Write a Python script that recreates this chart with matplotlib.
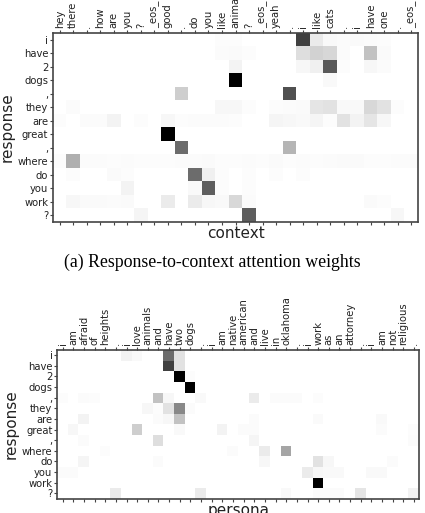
import numpy as np
import matplotlib
matplotlib.use("Agg")
import matplotlib.pyplot as plt

# tokens
response = ["i", "have", "2", "dogs", ",", "they", "are", "great", ",",
            "where", "do", "you", "work", "?"]
context = ["hey", "there", ".", "how", "are", "you", "?", "_eos_", "good", ".",
           "do", "you", "like", "animals", "?", "_eos_", "yeah", ".", "i",
           "like", "cats", ".", "i", "have", "one", ".", "_eos_"]
persona = ["i", "am", "afraid", "of", "heights", ".", "i", "love", "animals",
           "and", "have", "two", "dogs", ".", "i", "am", "native", "american",
           "and", "live", "in", "oklahoma", ".", "i", "work", "as", "an",
           "attorney", ".", "i", "am", "not", "religious", "."]

# attention weights (rows = response, cols = context)
context_weights = [
    [0, 0, 0, 0, 0, 0, 0, 0, 0, 0, 0, 0, .02, .02, 0, 0, 0, 0, .8, .15, .05, .03, .04, .03, .02, 0, 0],
    [0, 0, 0, 0, 0, 0, 0, 0, 0, 0, 0, 0, .03, .04, .02, 0, 0, 0, .22, .28, .26, .03, 0, .35, .04, 0, 0],
    [0, 0, 0, 0, 0, 0, 0, 0, 0, 0, 0, 0, 0, .1, 0, 0, 0, 0, .06, .12, .72, .02, 0, .06, .03, 0, 0],
    [0, 0, 0, 0, 0, 0, 0, 0, 0, 0, 0, 0, 0, 1, 0, 0, 0, 0, 0, 0, .05, 0, 0, 0, 0, 0, 0],
    [0, 0, 0, 0, 0, 0, 0, 0, 0, .3, 0, 0, 0, 0, 0, 0, 0, .75, 0, 0, 0, 0, 0, 0, 0, 0, 0],
    [0, .03, 0, 0, 0, 0, 0, 0, 0, 0, 0, 0, .07, .07, .02, 0, .02, .03, .04, .18, .2, .05, .05, .25, .2, .02, 0],
    [.02, 0, .03, .03, .1, 0, .02, 0, .07, .02, .03, .03, .03, .02, 0, 0, .08, .07, .05, .08, .02, .2, .1, .18, .06, 0, 0],
    [0, 0, 0, 0, 0, 0, 0, 0, 1, 0, 0, 0, 0, 0, 0, 0, 0, 0, 0, 0, 0, 0, 0, 0, 0, 0, 0],
    [0, 0, 0, 0, 0, 0, 0, 0, 0, .65, 0, 0, 0, 0, 0, 0, 0, .4, 0, 0, 0, 0, 0, 0, 0, 0, 0],
    [.02, .42, .03, .03, .02, .03, .02, .02, .02, .03, .03, .04, .02, .02, .03, .02, .04, .02, .03, .02, .03, .04, .04, .02, .02, .03, .03],
    [0, .02, 0, 0, .04, .02, 0, 0, 0, 0, .65, .12, .02, 0, .02, 0, .02, 0, .02, 0, 0, 0, 0, 0, 0, 0, 0],
    [0, 0, 0, 0, 0, .1, 0, 0, 0, 0, .05, .7, .02, 0, .02, 0, 0, 0, 0, 0, 0, 0, 0, 0, 0, 0, 0],
    [0, .07, .04, .04, .03, .04, 0, 0, .15, 0, .15, .07, .05, .25, .03, 0, 0, 0, 0, 0, 0, 0, 0, .04, .02, 0, 0],
    [0, 0, 0, 0, 0, 0, .08, 0, 0, 0, 0, 0, 0, 0, .7, 0, 0, 0, 0, 0, 0, 0, 0, 0, 0, .07, 0],
]

# rows = response, cols = persona
persona_weights = [
    [0, 0, 0, 0, 0, 0, .1, .05, 0, 0, .65, .2, 0, 0, 0, 0, 0, 0, 0, 0, 0, 0, 0, 0, 0, 0, 0, 0, 0, 0, 0, 0, 0, 0],
    [0, 0, 0, 0, 0, 0, 0, 0, 0, 0, .8, .2, 0, 0, 0, 0, 0, 0, 0, 0, 0, 0, 0, 0, 0, 0, 0, 0, 0, 0, 0, 0, 0, 0],
    [0, 0, 0, 0, 0, 0, 0, 0, 0, 0, 0, 1, .02, 0, 0, 0, 0, 0, 0, 0, 0, 0, 0, 0, 0, 0, 0, 0, 0, 0, 0, 0, 0, 0],
    [0, 0, 0, 0, 0, 0, 0, 0, 0, 0, 0, 0, 1, 0, 0, 0, 0, 0, 0, 0, 0, 0, 0, 0, 0, 0, 0, 0, 0, 0, 0, 0, 0, 0],
    [.02, 0, .03, .02, 0, 0, 0, 0, 0, .35, .06, 0, 0, .05, 0, 0, 0, 0, .15, 0, .03, .03, .03, 0, .02, 0, 0, 0, 0, 0, 0, 0, 0, 0],
    [0, 0, 0, 0, 0, 0, 0, 0, .06, .02, .2, .55, .03, 0, 0, 0, 0, 0, 0, 0, 0, 0, 0, 0, 0, 0, 0, 0, 0, 0, 0, 0, 0, 0],
    [0, 0, .1, 0, 0, 0, 0, 0, 0, .03, .06, .35, 0, 0, 0, 0, 0, 0, .03, 0, 0, 0, 0, 0, .04, 0, 0, 0, 0, 0, .05, 0, 0, 0],
    [0, .06, 0, 0, 0, 0, 0, .3, 0, 0, 0, .05, 0, 0, 0, .1, 0, .03, .03, 0, 0, 0, 0, 0, 0, 0, 0, 0, 0, 0, .03, 0, 0, .02],
    [0, 0, .03, 0, 0, 0, 0, 0, 0, .22, 0, 0, 0, 0, 0, 0, 0, 0, .08, 0, 0, 0, 0, 0, 0, 0, 0, 0, 0, 0, 0, 0, 0, .03],
    [0, 0, 0, 0, .02, 0, 0, 0, 0, 0, 0, 0, 0, 0, 0, 0, .03, 0, 0, .15, 0, .45, 0, 0, 0, 0, 0, 0, 0, 0, 0, 0, 0, 0],
    [0, 0, .08, 0, 0, 0, 0, 0, 0, .03, 0, 0, 0, 0, 0, 0, 0, 0, 0, .06, 0, 0, 0, 0, .2, .06, 0, 0, 0, 0, 0, .03, 0, 0],
    [.03, .03, 0, 0, 0, 0, 0, 0, 0, 0, 0, 0, 0, 0, 0, 0, 0, 0, 0, 0, 0, 0, 0, .15, .06, .05, .05, 0, 0, .05, .05, 0, 0, 0],
    [0, 0, 0, 0, 0, 0, 0, 0, 0, 0, 0, 0, 0, 0, 0, 0, 0, 0, 0, 0, 0, 0, 0, 0, 1, 0, 0, 0, 0, 0, 0, 0, 0, 0],
    [0, 0, 0, 0, 0, .15, 0, 0, 0, 0, 0, 0, 0, .15, 0, 0, 0, 0, 0, 0, 0, .05, 0, 0, .03, .03, .03, 0, .18, 0, 0, 0, 0, .1],
]


def draw_heatmap(ax, weights, cols, rows, xlabel):
    ax.imshow(np.array(weights), cmap="Greys", vmin=0, vmax=1,
              aspect="auto", interpolation="nearest")
    ax.set_xticks(range(len(cols)))
    ax.set_xticklabels(cols, rotation=90, fontsize=7.2, color="#222222")
    ax.set_yticks(range(len(rows)))
    ax.set_yticklabels(rows, fontsize=7.2, color="#222222")
    ax.tick_params(axis="x", top=True, labeltop=True, bottom=True,
                   labelbottom=False, length=2, width=0.8, pad=1.5,
                   color="#444444")
    ax.tick_params(axis="y", length=2, width=0.8, pad=1.5, color="#444444")
    ax.xaxis.set_label_position("bottom")
    ax.set_xlabel(xlabel, fontsize=11, labelpad=1, color="#222222")
    ax.set_ylabel("response", fontsize=11, labelpad=2, color="#222222")
    for s in ax.spines.values():
        s.set_color("#444444")
        s.set_linewidth(1.2)


fig = plt.figure(figsize=(4.25, 5.13), dpi=100)
ax1 = fig.add_axes([53 / 425, 291 / 513, 365 / 425, 189 / 513])
draw_heatmap(ax1, context_weights, context, response, "context")

fig.text(0.5, 1 - 262 / 513, "(a) Response-to-context attention weights",
         ha="center", va="center", fontsize=12.8, family="Liberation Serif")

ax2 = fig.add_axes([57.3 / 425, 14.3 / 513, 362 / 425, 149 / 513])
draw_heatmap(ax2, persona_weights, persona, response, "persona")

fig.savefig("out.png", dpi=100)
